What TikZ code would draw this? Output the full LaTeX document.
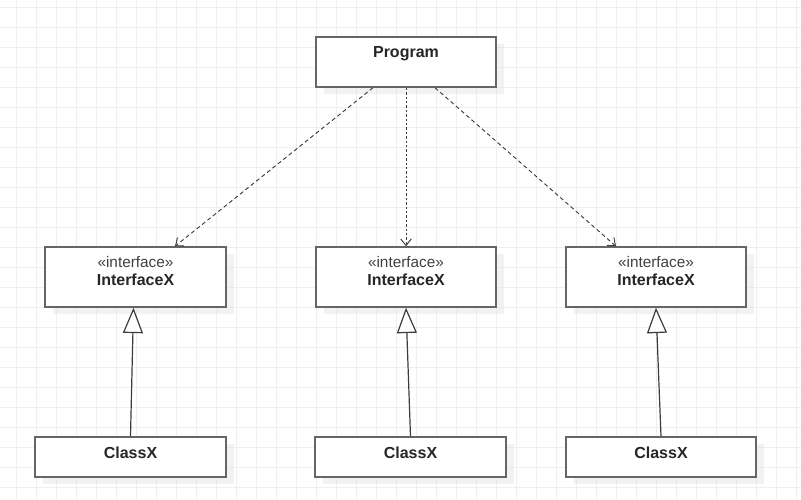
\documentclass[tikz,border=0pt]{standalone}
\usepackage{fontspec}
\setmainfont{Liberation Sans}
\usetikzlibrary{arrows.meta}
\usetikzlibrary{calc}
\usetikzlibrary{shadows}

\definecolor{gridgray}{HTML}{EFEFEF}
\definecolor{boxgray}{HTML}{666666}
\definecolor{linegray}{HTML}{3C3C3C}

\tikzset{
  umlbox/.style={draw=boxgray, line width=1.1pt, fill=white, rectangle,
    drop shadow={shadow xshift=6pt, shadow yshift=-5.5pt, fill=black!10, opacity=0.5}},
  nametxt/.style={font=\fontsize{12}{14}\selectfont\bfseries, text=black!85},
  stereotxt/.style={font=\fontsize{11.5}{13}\selectfont, text=black!75},
  usesarrow/.style={draw=linegray, line width=0.7pt, dash pattern=on 3pt off 2.2pt,
    -{Straight Barb[length=5pt, width=8pt]}},
  realizes/.style={draw=linegray, line width=0.9pt,
    -{Triangle[open, length=19pt, width=15pt, fill=white]}}
}

\begin{document}
\begin{tikzpicture}[x=0.75pt, y=-0.75pt]
\useasboundingbox (0,0) rectangle (801,500);

% griglia di sfondo
\foreach \gx in {16,36,...,796}
  \draw[gridgray, line width=0.75pt] (\gx,0) -- (\gx,500);
\foreach \gy in {7,27,...,487}
  \draw[gridgray, line width=0.75pt] (0,\gy) -- (801,\gy);

% Programma
\node[umlbox, minimum width=135pt, minimum height=37.5pt] (prog) at (406,62) {};
\node[nametxt] (progtxt) at (406,54) {Program};

% Interfacce
\node[umlbox, minimum width=135.75pt, minimum height=45pt] (ifa) at (135.5,277) {};
\node[stereotxt] (ifastereo) at (135.5,262) {«interface»};
\node[nametxt] (ifaname) at (135.5,280) {InterfaceX};

\node[umlbox, minimum width=135pt, minimum height=45pt] (ifb) at (406,277) {};
\node[stereotxt] (ifbstereo) at (406,262) {«interface»};
\node[nametxt] (ifbname) at (406,280) {InterfaceX};

\node[umlbox, minimum width=135pt, minimum height=45pt] (ifc) at (656,277) {};
\node[stereotxt] (ifcstereo) at (656,262) {«interface»};
\node[nametxt] (ifcname) at (656,280) {InterfaceX};

% Classi
\node[umlbox, minimum width=143.25pt, minimum height=30pt] (clsa) at (130.5,457) {};
\node[nametxt] (clsatxt) at (130.5,453) {ClassX};

\node[umlbox, minimum width=143.25pt, minimum height=30pt] (clsb) at (410.5,457) {};
\node[nametxt] (clsbtxt) at (410.5,453) {ClassX};

\node[umlbox, minimum width=142.5pt, minimum height=30pt] (clsc) at (661,457) {};
\node[nametxt] (clsctxt) at (661,453) {ClassX};

% Dipendenze dal programma
\draw[usesarrow] ($(prog.south)+(-33,0)$) -- ($(ifa.north)+(39.5,0)$);
\draw[usesarrow, dash pattern=on 1.8pt off 1.5pt] (prog.south) -- (ifb.north);
\draw[usesarrow] ($(prog.south)+(29,0)$) -- ($(ifc.north)+(-40,0)$);

% Realizzazioni
\draw[realizes] (clsa.north) -- ($(ifa.south)+(-2,0)$);
\draw[realizes] (clsb.north) -- (ifb.south);
\draw[realizes] (clsc.north) -- (ifc.south);
\end{tikzpicture}
\end{document}
